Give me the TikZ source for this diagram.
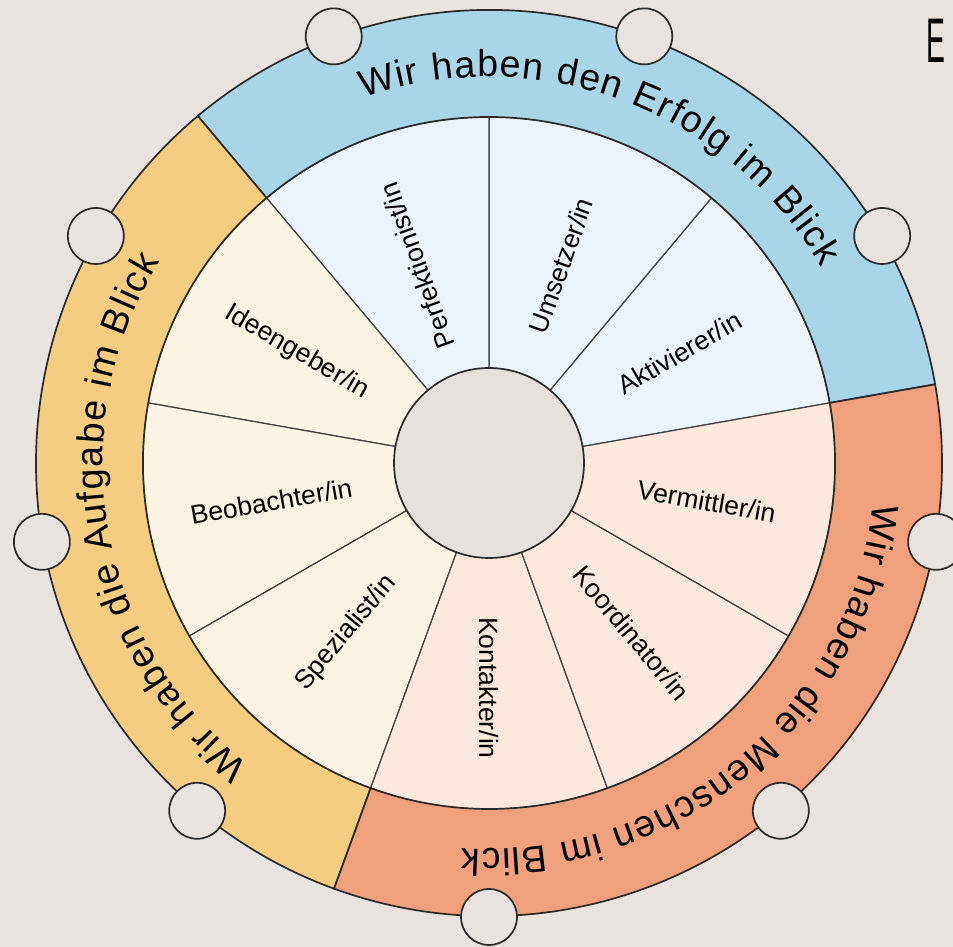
\documentclass[tikz,border=0pt]{standalone}
\usepackage{fontspec}
\setmainfont{Liberation Sans}
\usetikzlibrary{decorations.text}
\definecolor{bg}{HTML}{E8E3DE}
\definecolor{ringblue}{HTML}{A9D5E8}
\definecolor{ringorange}{HTML}{F5CD80}
\definecolor{ringred}{HTML}{F0A07C}
\definecolor{secblue}{HTML}{EBF4FB}
\definecolor{secorange}{HTML}{FBF3E3}
\definecolor{secred}{HTML}{FCE8DD}
\definecolor{hubfill}{HTML}{E6E0DB}
\definecolor{lineclr}{HTML}{2A2A2A}
\begin{document}
\begin{tikzpicture}[x=1pt,y=1pt,
  ringline/.style={draw=lineclr,line width=1.7pt},
  secline/.style={draw=lineclr!90,line width=1.2pt},
  hub/.style={circle,draw=lineclr,line width=1.7pt,fill=hubfill,minimum size=190pt,inner sep=0pt},
  knob/.style={circle,draw=lineclr,line width=1.7pt,fill=bg,minimum size=56pt,inner sep=0pt},
  lab/.style={font=\fontsize{26.5}{30}\selectfont,inner sep=0pt},
  ringtext/.style={decorate,decoration={text along path,text align=fit to path,
     text={|\fontsize{37.5}{42}\selectfont|#1}}}
]
\fill[bg] (0,0) rectangle (953,947);
\useasboundingbox (0,0) rectangle (953,947);
\clip (0,0) rectangle (953,947);
\begin{scope}[shift={(489,484)}]
  % sectors
  \foreach \a/\b/\c in {10/50/secblue,50/90/secblue,90/130/secblue,
                        130/170/secorange,170/210/secorange,210/250/secorange,
                        250/290/secred,290/330/secred,330/370/secred}{
    \filldraw[fill=\c,secline] (0,0) -- (\a:346) arc[start angle=\a,end angle=\b,radius=346] -- cycle;
  }
  % outer ring
  \foreach \a/\b/\c in {10/130/ringblue,130/250/ringorange,250/370/ringred}{
    \filldraw[fill=\c,ringline] (\a:453) arc[start angle=\a,end angle=\b,radius=453]
      -- (\b:346) arc[start angle=\b,end angle=\a,radius=346] -- cycle;
  }
  % hub
  \node[hub] (hub) at (0,0) {};
  % ring texts
  \path[ringtext={Wir haben den Erfolg im Blick}] (109:386) arc[start angle=109,end angle=30.5,radius=386];
  \path[ringtext={Wir haben die Aufgabe im Blick}] (231.5:386) arc[start angle=231.5,end angle=148.5,radius=386];
  \path[ringtext={Wir haben die Menschen im Blick}] (354:386) arc[start angle=354,end angle=266,radius=386];
  % sector labels
  \node[lab,rotate=110] (perf) at (110:210) {Perfektionist/in};
  \node[lab,rotate=70] (ums) at (70:210) {Umsetzer/in};
  \node[lab,rotate=30] (akt) at (30:220) {Aktivierer/in};
  \node[lab,rotate=-30] (idee) at (150:222) {Ideengeber/in};
  \node[lab,rotate=10] (beob) at (190:221) {Beobachter/in};
  \node[lab,rotate=50] (spez) at (230:222) {Spezialist/in};
  \node[lab,rotate=-90] (kont) at (270:225) {Kontakter/in};
  \node[lab,rotate=-50] (koord) at (310:222) {Koordinator/in};
  \node[lab,rotate=-10] (verm) at (350:221) {Vermittler/in};
  % knobs
  \foreach \a [count=\i] in {30,70,110,150,190,230,270,310,350}{
    \node[knob] (k\i) at (\a:454) {};
  }
\end{scope}
\node[font=\fontsize{63}{63}\selectfont,xscale=0.45,inner sep=0pt] (corner) at (936,906.5) {E};
\end{tikzpicture}
\end{document}
